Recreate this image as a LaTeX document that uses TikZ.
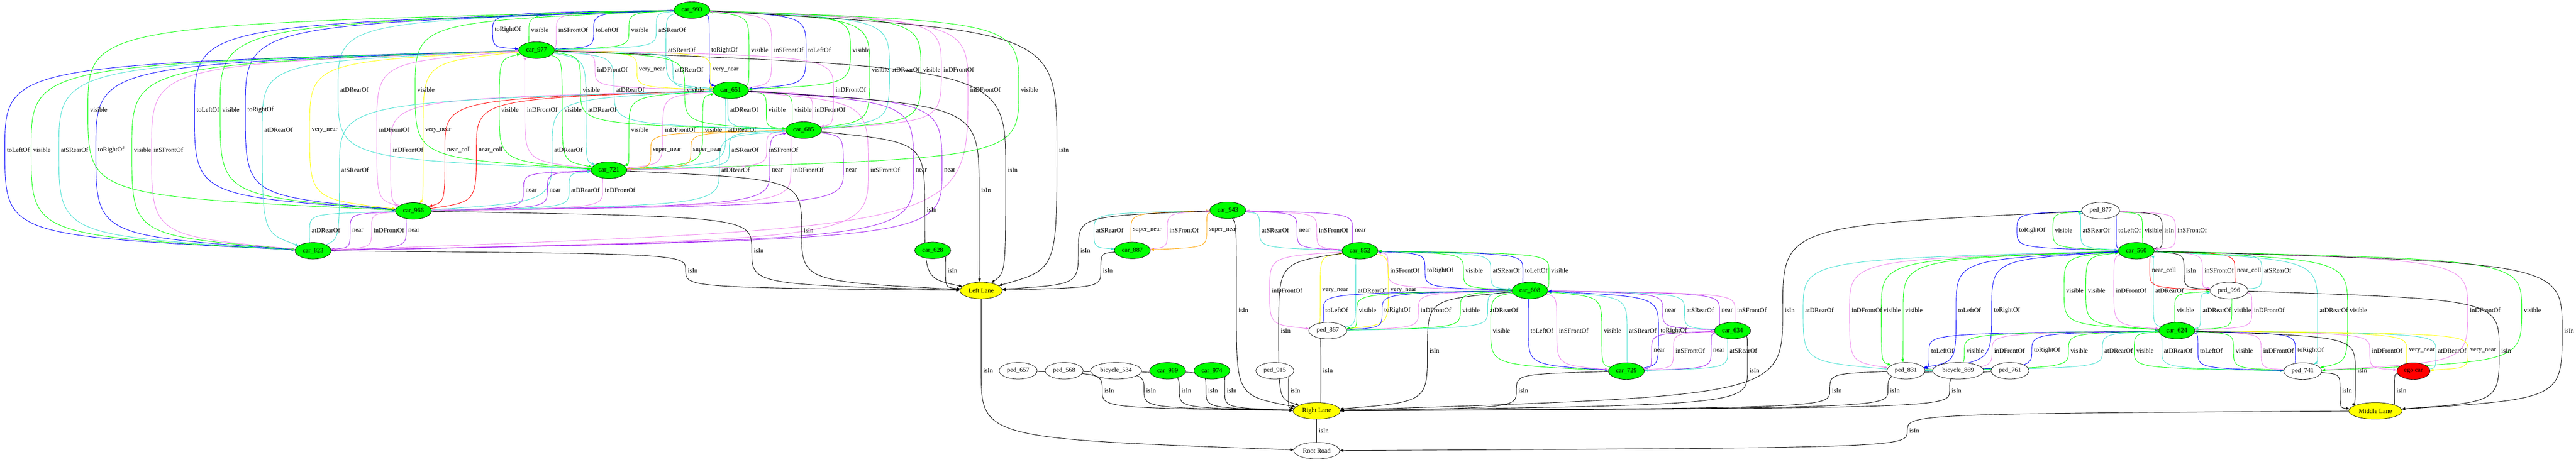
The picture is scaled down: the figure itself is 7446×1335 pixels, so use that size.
\documentclass[tikz,border=0pt]{standalone}
\usepackage{fontspec}
\setmainfont{Liberation Serif}
\usetikzlibrary{shapes.geometric,arrows.meta,calc}
\definecolor{gvgreen}{HTML}{00FF00}
\definecolor{gvturq}{HTML}{40E0D0}
\definecolor{gvviolet}{HTML}{EE82EE}
\definecolor{gvpurple}{HTML}{A020F0}
\definecolor{gvyellow}{HTML}{FFFF00}
\definecolor{gvorange}{HTML}{FFA500}
\definecolor{gvblue}{HTML}{0000FF}
\definecolor{gvred}{HTML}{FF0000}
\pgfdeclarelayer{bg}
\pgfdeclarelayer{edges}
\pgfsetlayers{bg,edges,main}
\newcounter{gvl}
% tail, head, style, label, label-left-x, label-y
\newcommand\gvE[6]{%
  \coordinate (w) at ({#5-6},#6);
  \begin{pgfonlayer}{edges}
  \draw[#3] (#1) .. controls ($(w |- #1)!0.15!(w)$) .. (w) .. controls ($(w |- #2)!0.15!(w)$) .. (#2);
  \end{pgfonlayer}
  \stepcounter{gvl}%
  \node[lbl] (lab\thegvl) at (#5,#6) {#4};
}
\begin{document}
\begin{tikzpicture}[x=0.75pt,y=-0.75pt,
  base/.style={ellipse, draw=black, line width=0.8pt, minimum height=36pt, inner xsep=5pt, inner ysep=0pt, font=\fontsize{14}{16}\selectfont},
  car/.style={base, fill=gvgreen},
  lane/.style={base, fill=gvyellow},
  plain/.style={base, fill=white},
  egocar/.style={base, fill=gvred},
  lbl/.style={anchor=west, inner sep=0pt, font=\fontsize{14}{16}\selectfont},
  edge/.style={line width=1pt, -{Triangle[length=7.5pt,width=5.5pt]}},
  eVis/.style={edge, color=gvgreen},
  eTl/.style={edge, color=gvblue},
  eRear/.style={edge, color=gvturq},
  eFront/.style={edge, color=gvviolet},
  eNear/.style={edge, color=gvpurple},
  eVnear/.style={edge, color=gvyellow},
  eSnear/.style={edge, color=gvorange},
  eColl/.style={edge, color=gvred},
  eIsin/.style={edge, color=black}]
\begin{pgfonlayer}{bg}
\fill[white] (0,0) rectangle (7446,1335);
\end{pgfonlayer}
\useasboundingbox (0,0) rectangle (7446,1335);

% ---------- nodes ----------
\node[car] (A) at (2000,29) {car\_993};
\node[car] (B) at (1551,145) {car\_977};
\node[car] (C) at (2112,261) {car\_651};
\node[car] (D) at (2323,376) {car\_685};
\node[car] (E) at (1760,492) {car\_721};
\node[car] (F) at (1195,610) {car\_966};
\node[car] (G) at (905,725) {car\_823};
\node[car] (H) at (2696,724) {car\_628};
\node[lane] (LL) at (2836,840) {Left Lane};

\node[car] (I) at (3549,608) {car\_943};
\node[car] (J) at (3273,724) {car\_887};
\node[car] (K) at (3931,725) {car\_852};
\node[car] (L) at (4422,840) {car\_608};
\node[plain] (M) at (3838,956) {ped\_867};
\node[car] (N) at (5008,956) {car\_634};
\node[car] (O) at (4701,1073) {car\_729};
\node[plain] (p657) at (2943,1072) {ped\_657};
\node[plain] (p568) at (3076,1072) {ped\_568};
\node[plain] (b534) at (3226,1072) {bicycle\_534};
\node[car] (c989) at (3375,1072) {car\_989};
\node[car] (c974) at (3503,1072) {car\_974};
\node[plain] (p915) at (3685,1072) {ped\_915};
\node[lane] (RL) at (3806,1188) {Right Lane};
\node[plain] (RR) at (3806,1303) {Root Road};

\node[plain] (P7) at (6072,609) {ped\_877};
\node[car] (C5) at (6175,725) {car\_560};
\node[plain] (P9) at (6443,840) {ped\_996};
\node[car] (C6) at (6292,956) {car\_624};
\node[plain] (p831) at (5509,1072) {ped\_831};
\node[plain] (b869) at (5660,1072) {bicycle\_869};
\node[plain] (p761) at (5810,1072) {ped\_761};
\node[plain] (P4) at (6656,1073) {ped\_741};
\node[egocar] (EG) at (6976,1073) {ego car};
\node[lane] (ML) at (6866,1188) {Middle Lane};

% ---------- left cluster ----------
\gvE{A}{B}{eTl}{toRightOf}{1430}{86}
\gvE{B}{A}{eVis}{visible}{1535}{86}
\gvE{B}{A}{eFront}{inSFrontOf}{1614}{86}
\gvE{A}{B}{eTl}{toLeftOf}{1722}{86}
\gvE{A}{B}{eVis}{visible}{1824}{86}
\gvE{A}{B}{eRear}{atSRearOf}{1903}{86}

\gvE{A}{C}{eRear}{atSRearOf}{1931}{145}
\gvE{A}{C}{eTl}{toRightOf}{2056}{145}
\gvE{C}{A}{eVis}{visible}{2171}{145}
\gvE{C}{A}{eFront}{inSFrontOf}{2237}{145}
\gvE{A}{C}{eTl}{toLeftOf}{2336}{145}
\gvE{A}{C}{eVis}{visible}{2464}{145}

\gvE{C}{B}{eFront}{inDFrontOf}{1726}{202}
\gvE{C}{B}{eVnear}{very\_near}{1847}{202}
\gvE{B}{C}{eRear}{atDRearOf}{1951}{202}
\gvE{B}{C}{eVnear}{very\_near}{2060}{202}
\gvE{A}{D}{eVis}{visible}{2520}{202}
\gvE{A}{D}{eRear}{atDRearOf}{2577}{202}
\gvE{A}{D}{eVis}{visible}{2668}{202}
\gvE{A}{D}{eFront}{inDFrontOf}{2727}{202}

\gvE{A}{E}{eRear}{atDRearOf}{983}{260}
\gvE{A}{E}{eVis}{visible}{1206}{260}
\gvE{B}{D}{eVis}{visible}{1684}{260}
\gvE{B}{D}{eRear}{atDRearOf}{1781}{260}
\gvE{D}{B}{eVis}{visible}{1985}{260}
\gvE{B}{D}{eFront}{inDFrontOf}{2415}{260}
\gvE{A}{G}{eFront}{inDFrontOf}{2804}{260}
\gvE{A}{E}{eVis}{visible}{2951}{260}

\gvE{A}{F}{eVis}{visible}{260}{318}
\gvE{A}{F}{eTl}{toLeftOf}{568}{318}
\gvE{A}{F}{eVis}{visible}{642}{318}
\gvE{A}{F}{eTl}{toRightOf}{715}{318}
\gvE{E}{B}{eVis}{visible}{1449}{318}
\gvE{E}{B}{eFront}{inDFrontOf}{1523}{318}
\gvE{B}{E}{eVis}{visible}{1631}{318}
\gvE{B}{E}{eRear}{atDRearOf}{1700}{318}
\gvE{C}{D}{eRear}{atDRearOf}{2110}{318}
\gvE{C}{D}{eVis}{visible}{2221}{318}
\gvE{D}{C}{eVis}{visible}{2296}{318}
\gvE{D}{C}{eFront}{inDFrontOf}{2355}{318}

\gvE{B}{G}{eRear}{atDRearOf}{764}{376}
\gvE{B}{F}{eVnear}{very\_near}{901}{376}
\gvE{B}{F}{eFront}{inDFrontOf}{1095}{376}
\gvE{B}{F}{eVnear}{very\_near}{1229}{376}
\gvE{C}{E}{eVis}{visible}{1824}{376}
\gvE{C}{E}{eFront}{inDFrontOf}{1922}{376}
\gvE{E}{C}{eVis}{visible}{2037}{376}
\gvE{C}{E}{eRear}{atDRearOf}{2104}{376}

\gvE{B}{G}{eTl}{toLeftOf}{20}{434}
\gvE{B}{G}{eVis}{visible}{96}{434}
\gvE{B}{G}{eRear}{atSRearOf}{176}{434}
\gvE{B}{G}{eTl}{toRightOf}{283}{434}
\gvE{B}{G}{eVis}{visible}{387}{434}
\gvE{G}{B}{eFront}{inSFrontOf}{444}{434}
\gvE{F}{C}{eFront}{inDFrontOf}{1135}{434}
\gvE{C}{F}{eColl}{near\_coll}{1292}{434}
\gvE{F}{C}{eColl}{near\_coll}{1383}{434}
\gvE{F}{C}{eRear}{atDRearOf}{1602}{434}
\gvE{D}{E}{eSnear}{super\_near}{1887}{434}
\gvE{E}{D}{eSnear}{super\_near}{2003}{434}
\gvE{E}{D}{eRear}{atSRearOf}{2114}{434}
\gvE{D}{E}{eFront}{inSFrontOf}{2222}{434}
\gvE{A}{LL}{eIsin}{isIn}{3061}{434}

\gvE{G}{C}{eRear}{atSRearOf}{987}{492}
\gvE{D}{F}{eRear}{atDRearOf}{2085}{492}
\gvE{F}{D}{eNear}{near}{2231}{492}
\gvE{D}{F}{eFront}{inDFrontOf}{2292}{492}
\gvE{D}{F}{eNear}{near}{2444}{492}
\gvE{C}{G}{eFront}{inSFrontOf}{2516}{492}
\gvE{C}{G}{eNear}{near}{2647}{492}
\gvE{G}{C}{eNear}{near}{2729}{492}
\gvE{B}{LL}{eIsin}{isIn}{2913}{492}

\gvE{F}{E}{eNear}{near}{1519}{550}
\gvE{F}{E}{eNear}{near}{1588}{550}
\gvE{F}{E}{eRear}{atDRearOf}{1651}{550}
\gvE{E}{F}{eFront}{inDFrontOf}{1748}{550}
\gvE{C}{LL}{eIsin}{isIn}{2836}{550}

\gvE{D}{LL}{eIsin}{isIn}{2679}{607}

\gvE{G}{F}{eRear}{atDRearOf}{901}{666}
\gvE{F}{G}{eNear}{near}{1018}{666}
\gvE{F}{G}{eFront}{inDFrontOf}{1080}{666}
\gvE{G}{F}{eNear}{near}{1180}{666}
\gvE{E}{LL}{eIsin}{isIn}{2323}{666}

\gvE{F}{LL}{eIsin}{isIn}{2179}{724}
\gvE{G}{LL}{eIsin}{isIn}{1988}{782}
\gvE{H}{LL}{eIsin}{isIn}{2739}{782}

% ---------- middle cluster ----------
\gvE{I}{J}{eRear}{atSRearOf}{3168}{666}
\gvE{J}{I}{eSnear}{super\_near}{3275}{666}
\gvE{J}{I}{eFront}{inSFrontOf}{3380}{666}
\gvE{I}{J}{eSnear}{super\_near}{3494}{666}
\gvE{I}{K}{eRear}{atSRearOf}{3647}{666}
\gvE{K}{I}{eNear}{near}{3755}{666}
\gvE{K}{I}{eFront}{inSFrontOf}{3812}{666}
\gvE{I}{K}{eNear}{near}{3916}{666}

\gvE{I}{LL}{eIsin}{isIn}{3123}{724}
\gvE{J}{LL}{eIsin}{isIn}{3188}{782}
\gvE{L}{K}{eFront}{inSFrontOf}{4018}{782}
\gvE{L}{K}{eTl}{toRightOf}{4125}{782}
\gvE{K}{L}{eVis}{visible}{4236}{782}
\gvE{K}{L}{eRear}{atSRearOf}{4315}{782}
\gvE{K}{L}{eTl}{toLeftOf}{4408}{782}
\gvE{L}{K}{eVis}{visible}{4483}{782}

\gvE{K}{M}{eFront}{inDFrontOf}{3676}{840}
\gvE{M}{K}{eVnear}{very\_near}{3822}{840}
\gvE{M}{K}{eRear}{atDRearOf}{3925}{840}
\gvE{K}{M}{eVnear}{very\_near}{4019}{840}

\gvE{I}{RL}{eIsin}{isIn}{3580}{897}
\gvE{M}{L}{eTl}{toLeftOf}{3831}{897}
\gvE{L}{M}{eVis}{visible}{3928}{897}
\gvE{L}{M}{eTl}{toRightOf}{4001}{897}
\gvE{L}{M}{eFront}{inDFrontOf}{4106}{897}
\gvE{M}{L}{eVis}{visible}{4227}{897}
\gvE{M}{L}{eRear}{atDRearOf}{4306}{897}
\gvE{N}{L}{eNear}{near}{4812}{897}
\gvE{N}{L}{eRear}{atSRearOf}{4875}{897}
\gvE{L}{N}{eNear}{near}{4976}{897}
\gvE{L}{N}{eFront}{inSFrontOf}{5021}{897}
\gvE{P7}{RL}{eIsin}{isIn}{5159}{897}

\gvE{K}{RL}{eIsin}{isIn}{3702}{956}
\gvE{L}{O}{eVis}{visible}{4315}{956}
\gvE{L}{O}{eTl}{toLeftOf}{4424}{956}
\gvE{L}{O}{eFront}{inSFrontOf}{4506}{956}
\gvE{O}{L}{eVis}{visible}{4636}{956}
\gvE{O}{L}{eRear}{atSRearOf}{4709}{956}
\gvE{O}{L}{eTl}{toRightOf}{4800}{956}

\gvE{L}{RL}{eIsin}{isIn}{4132}{1014}
\gvE{O}{N}{eNear}{near}{4780}{1014}
\gvE{O}{N}{eFront}{inSFrontOf}{4843}{1014}
\gvE{N}{O}{eNear}{near}{4952}{1014}
\gvE{N}{O}{eRear}{atSRearOf}{5000}{1014}

\gvE{M}{RL}{eIsin}{isIn}{3824}{1072}
\gvE{N}{RL}{eIsin}{isIn}{5057}{1072}
\gvE{LL}{RR}{eIsin}{isIn}{2842}{1072}

\gvE{p657}{RL}{eIsin}{isIn}{3192}{1130}
\gvE{p568}{RL}{eIsin}{isIn}{3313}{1130}
\gvE{b534}{RL}{eIsin}{isIn}{3415}{1130}
\gvE{c989}{RL}{eIsin}{isIn}{3492}{1130}
\gvE{c974}{RL}{eIsin}{isIn}{3546}{1130}
\gvE{p915}{RL}{eIsin}{isIn}{3730}{1130}
\gvE{O}{RL}{eIsin}{isIn}{4389}{1130}
\gvE{RL}{RR}{eIsin}{isIn}{3812}{1245}

% ---------- right cluster ----------
\gvE{P7}{C5}{eTl}{toRightOf}{5836}{666}
\gvE{C5}{P7}{eVis}{visible}{5940}{666}
\gvE{C5}{P7}{eRear}{atSRearOf}{6020}{666}
\gvE{C5}{P7}{eTl}{toLeftOf}{6123}{666}
\gvE{P7}{C5}{eVis}{visible}{6199}{666}
\gvE{P7}{C5}{eIsin}{isIn}{6256}{666}
\gvE{P7}{C5}{eFront}{inSFrontOf}{6294}{666}

\gvE{C5}{P9}{eColl}{near\_coll}{6220}{782}
\gvE{C5}{P9}{eIsin}{isIn}{6319}{782}
\gvE{C5}{P9}{eFront}{inSFrontOf}{6372}{782}
\gvE{P9}{C5}{eColl}{near\_coll}{6466}{782}
\gvE{P9}{C5}{eRear}{atSRearOf}{6544}{782}

\gvE{C5}{C6}{eVis}{visible}{5972}{840}
\gvE{C6}{C5}{eVis}{visible}{6035}{840}
\gvE{C5}{C6}{eFront}{inDFrontOf}{6116}{840}
\gvE{C6}{C5}{eRear}{atDRearOf}{6230}{840}

\gvE{p831}{C5}{eRear}{atDRearOf}{5218}{897}
\gvE{C5}{p831}{eFront}{inDFrontOf}{5352}{897}
\gvE{C5}{p831}{eVis}{visible}{5444}{897}
\gvE{C5}{p831}{eVis}{visible}{5507}{897}
\gvE{C5}{p831}{eTl}{toLeftOf}{5660}{897}
\gvE{p831}{C5}{eTl}{toRightOf}{5763}{897}
\gvE{C6}{P9}{eVis}{visible}{6292}{897}
\gvE{C6}{P9}{eRear}{atDRearOf}{6367}{897}
\gvE{P9}{C6}{eVis}{visible}{6457}{897}
\gvE{P9}{C6}{eFront}{inDFrontOf}{6515}{897}
\gvE{C5}{P4}{eRear}{atDRearOf}{6705}{897}
\gvE{C5}{P4}{eVis}{visible}{6792}{897}
\gvE{C5}{P4}{eFront}{inDFrontOf}{7139}{897}
\gvE{C5}{P4}{eVis}{visible}{7295}{897}

\gvE{C5}{ML}{eIsin}{isIn}{7412}{956}

\gvE{p831}{C6}{eTl}{toLeftOf}{5582}{1014}
\gvE{C6}{p831}{eVis}{visible}{5684}{1014}
\gvE{C6}{p831}{eFront}{inDFrontOf}{5764}{1014}
\gvE{p831}{C6}{eTl}{toRightOf}{5879}{1014}
\gvE{p831}{C6}{eVis}{visible}{5985}{1014}
\gvE{C6}{p831}{eRear}{atDRearOf}{6083}{1014}
\gvE{C6}{P4}{eVis}{visible}{6175}{1014}
\gvE{C6}{P4}{eRear}{atDRearOf}{6255}{1014}
\gvE{C6}{P4}{eTl}{toLeftOf}{6359}{1014}
\gvE{P4}{C6}{eVis}{visible}{6462}{1014}
\gvE{P4}{C6}{eFront}{inDFrontOf}{6542}{1014}
\gvE{P4}{C6}{eTl}{toRightOf}{6641}{1014}
\gvE{C6}{EG}{eFront}{inDFrontOf}{6856}{1014}
\gvE{EG}{C6}{eVnear}{very\_near}{6963}{1014}
\gvE{EG}{C6}{eRear}{atDRearOf}{7047}{1014}
\gvE{C6}{EG}{eVnear}{very\_near}{7140}{1014}
\gvE{P9}{ML}{eIsin}{isIn}{7230}{1014}

\gvE{C6}{ML}{eIsin}{isIn}{6814}{1072}
\gvE{P4}{ML}{eIsin}{isIn}{6770}{1130}
\gvE{EG}{ML}{eIsin}{isIn}{6927}{1130}
\gvE{p831}{RL}{eIsin}{isIn}{5295}{1130}
\gvE{b869}{RL}{eIsin}{isIn}{5463}{1130}
\gvE{p761}{RL}{eIsin}{isIn}{5641}{1130}
\gvE{ML}{RR}{eIsin}{isIn}{5519}{1246}
\end{tikzpicture}
\end{document}
